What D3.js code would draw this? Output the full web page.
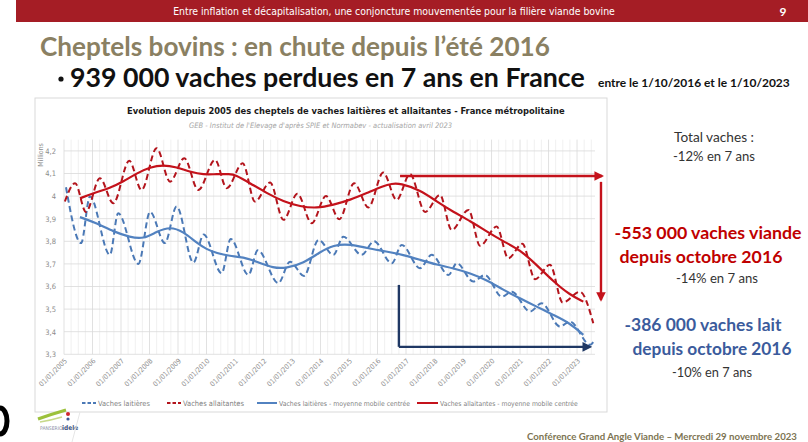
<!DOCTYPE html>
<html><head><meta charset="utf-8">
<script src="https://cdn.jsdelivr.net/npm/d3@7"></script>
<style>body{margin:0;background:#fff;} svg{display:block;}</style>
</head><body><svg id="c" width="808" height="442"></svg>
<script>
// ---------- DATA ----------
const yearTicks = d3.range(2005, 2024);
const yTickValues = [3.3, 3.4, 3.5, 3.6, 3.7, 3.8, 3.9, 4.0, 4.1, 4.2];
const yTickLabels = ["3,3","3,4","3,5","3,6","3,7","3,8","3,9","4","4,1","4,2"];

// Vaches laitières (dashed) – decimal year / millions
const laitT = [2005.07,2005.60,2005.91,2006.61,2006.90,2007.61,2008.02,2008.54,2008.95,2009.54,2009.90,2010.53,2010.85,2011.47,2011.80,2012.52,2012.93,2013.42,2013.93,2014.45,2014.80,2015.44,2015.88,2016.50,2016.85,2017.49,2017.90,2018.49,2018.78,2019.36,2019.77,2020.36,2020.71,2021.35,2021.76,2022.40,2022.75,2023.46,2023.63];
const laitV = [4.039,3.792,3.998,3.740,3.924,3.700,3.930,3.792,3.954,3.706,3.830,3.659,3.810,3.651,3.760,3.615,3.710,3.647,3.806,3.740,3.820,3.740,3.800,3.703,3.784,3.681,3.740,3.651,3.703,3.622,3.651,3.555,3.577,3.489,3.526,3.423,3.445,3.342,3.367];

// Vaches allaitantes (dashed)
const allaitT = [2005.03,2005.39,2005.77,2006.26,2006.73,2007.29,2007.72,2008.25,2008.72,2009.22,2009.71,2010.30,2010.71,2011.27,2011.70,2012.23,2012.70,2013.19,2013.69,2014.19,2014.66,2015.18,2015.68,2016.20,2016.67,2017.14,2017.67,2018.19,2018.60,2019.19,2019.60,2020.18,2020.59,2021.08,2021.53,2022.05,2022.50,2023.10,2023.57];
const allaitV = [3.976,4.057,3.930,4.079,3.968,4.156,4.027,4.212,4.064,4.168,4.027,4.160,4.035,4.145,3.976,4.060,3.895,4.010,3.880,4.000,3.898,4.057,3.950,4.104,3.983,4.097,3.930,4.005,3.850,3.939,3.780,3.865,3.725,3.789,3.632,3.696,3.529,3.577,3.437];

// Vaches laitières – moyenne mobile centrée
const laitMmT = [2005.56,2006.15,2006.73,2007.32,2007.79,2008.25,2008.72,2009.19,2009.66,2010.00,2010.36,2010.82,2011.29,2011.76,2012.35,2012.81,2013.40,2013.98,2014.45,2015.04,2015.62,2016.32,2016.90,2017.49,2018.08,2018.66,2019.25,2019.83,2020.41,2021.00,2021.58,2022.17,2022.75,2023.22];
const laitMmV = [3.907,3.880,3.843,3.818,3.810,3.843,3.865,3.843,3.792,3.765,3.747,3.735,3.730,3.710,3.681,3.681,3.703,3.752,3.784,3.788,3.770,3.755,3.740,3.718,3.696,3.681,3.659,3.629,3.585,3.548,3.511,3.474,3.438,3.386];

// Vaches allaitantes – moyenne mobile centrée
const allaitMmT = [2005.56,2006.09,2006.61,2007.08,2007.55,2008.02,2008.48,2008.95,2009.42,2009.89,2010.36,2010.82,2011.00,2011.53,2012.11,2012.70,2013.28,2013.87,2014.45,2015.04,2015.62,2016.20,2016.50,2016.79,2017.49,2018.08,2018.66,2019.25,2019.83,2020.41,2021.00,2021.58,2022.17,2022.75,2023.22];
const allaitMmV = [3.990,4.016,4.035,4.064,4.101,4.128,4.138,4.128,4.108,4.094,4.098,4.097,4.095,4.057,4.013,3.976,3.954,3.946,3.961,3.983,4.013,4.045,4.055,4.057,4.027,3.976,3.930,3.890,3.843,3.800,3.762,3.696,3.622,3.563,3.533];

const legendLabels = ["Vaches laitières","Vaches allaitantes","Vaches laitières - moyenne mobile centrée","Vaches allaitantes - moyenne mobile centrée"];

// ---------- SETUP ----------
const svg = d3.select("#c");
const C = {redD:"#b3141c", redS:"#c4121b", blueD:"#4b79b6", blueS:"#5282c0", navy:"#1f3864"};
const slideFont = "Lato, 'Open Sans', sans-serif";
const chartFont = "'Liberation Sans Narrow','Arial Narrow','DejaVu Sans Condensed','Liberation Sans',sans-serif";

function fit(sel, w){
  const L = sel.node().getComputedTextLength();
  const fs = parseFloat(sel.attr("font-size"));
  if (L > 0) sel.attr("font-size", (fs * w / L).toFixed(2));
  return sel;
}

// header bar
svg.append("rect").attr("x",16).attr("y",0).attr("width",792).attr("height",22).attr("fill","#a51d25");
fit(svg.append("text").attr("x",394).attr("y",15).attr("text-anchor","middle")
  .attr("font-family",chartFont).attr("font-size",10).attr("fill","#fff")
  .text("Entre inflation et décapitalisation, une conjoncture mouvementée pour la filière viande bovine"), 442);
svg.append("text").attr("x",783).attr("y",16).attr("text-anchor","middle")
  .attr("font-family",slideFont).attr("font-weight","bold").attr("font-size",12).attr("fill","#fff").text("9");

// slide titles
fit(svg.append("text").attr("x",40).attr("y",56).attr("font-family",slideFont).attr("font-weight","bold")
  .attr("font-size",22).attr("fill","#8a8062").text("Cheptels bovins : en chute depuis l’été 2016"), 510);
svg.append("circle").attr("cx",61).attr("cy",79).attr("r",2.6).attr("fill","#111");
fit(svg.append("text").attr("x",70).attr("y",87).attr("font-family",slideFont).attr("font-weight","bold")
  .attr("font-size",22).attr("fill","#111").text("939 000 vaches perdues en 7 ans en France"), 515);
fit(svg.append("text").attr("x",598).attr("y",87).attr("font-family",slideFont).attr("font-weight","bold")
  .attr("font-size",9).attr("fill","#111").text("entre le 1/10/2016 et le 1/10/2023"), 192);

// chart box
svg.append("rect").attr("x",35).attr("y",98).attr("width",572).attr("height",314)
  .attr("fill","#fff").attr("stroke","#d9d9d9").attr("stroke-width",1);

fit(svg.append("text").attr("x",127).attr("y",114).attr("font-family",chartFont).attr("font-weight","bold")
  .attr("font-size",11).attr("fill","#1a1a1a")
  .text("Evolution depuis 2005 des cheptels de vaches laitières et allaitantes - France métropolitaine"), 438);
fit(svg.append("text").attr("x",189).attr("y",128).attr("font-family",chartFont).attr("font-style","italic")
  .attr("font-size",8).attr("fill","#a6a6a6")
  .text("GEB - Institut de l'Elevage d'après SPIE et Normabev - actualisation avril 2023"), 263);

// scales
const x = d3.scaleLinear().domain([2005, 2023.63]).range([64, 595]);
const y = d3.scaleLinear().domain([3.3, 4.25]).range([354.3, 139.6]);

// minor vertical gridlines (quarterly)
const minor = d3.range(2005, 2023.63, 0.25).filter(v => Math.abs(v - Math.round(v)) > 0.01);
svg.append("g").selectAll("line").data(minor).join("line")
  .attr("x1",d=>x(d)).attr("x2",d=>x(d)).attr("y1",y(4.25)).attr("y2",y(3.3))
  .attr("stroke","#ececec").attr("stroke-width",0.8);
// major vertical gridlines
svg.append("g").selectAll("line").data(yearTicks).join("line")
  .attr("x1",d=>x(d)).attr("x2",d=>x(d)).attr("y1",y(4.25)).attr("y2",y(3.3))
  .attr("stroke","#d9d9d9").attr("stroke-width",0.8);
// horizontal gridlines
svg.append("g").selectAll("line").data(yTickValues).join("line")
  .attr("x1",x(2005)).attr("x2",x(2023.63)).attr("y1",d=>y(d)).attr("y2",d=>y(d))
  .attr("stroke","#d9d9d9").attr("stroke-width",0.8);

// y axis via d3.axisLeft
const yAxis = d3.axisLeft(y).tickValues(yTickValues).tickSize(0).tickPadding(7)
  .tickFormat((d,i)=>yTickLabels[i]);
const gy = svg.append("g").attr("transform",`translate(${x(2005)-1},0)`).call(yAxis);
gy.select(".domain").remove();
gy.selectAll("text").attr("font-family",chartFont).attr("font-size",7.5).attr("fill","#8c8c8c");

svg.append("text").attr("transform",`translate(43,155) rotate(-90)`).attr("text-anchor","middle")
  .attr("font-family",chartFont).attr("font-size",7).attr("fill","#8c8c8c").text("Millions");

// x axis labels
const xAxis = d3.axisBottom(x).tickValues(yearTicks).tickSize(0).tickFormat(d=>"01/01/"+d);
const gx = svg.append("g").attr("transform",`translate(0,${y(3.3)})`).call(xAxis);
gx.select(".domain").remove();
gx.selectAll("text").attr("font-family",chartFont).attr("font-size",7).attr("fill","#8c8c8c")
  .attr("text-anchor","end").attr("dy",0).attr("y",0)
  .attr("transform","translate(3,7) rotate(-45)");

// lines
const mk = (T,V) => T.map((t,i)=>[t,V[i]]);
const lineSmooth = d3.line().x(d=>x(d[0])).y(d=>y(d[1])).curve(d3.curveMonotoneX);
const lineMA = d3.line().x(d=>x(d[0])).y(d=>y(d[1])).curve(d3.curveBasis);

svg.append("path").attr("d",lineSmooth(mk(laitT,laitV))).attr("fill","none")
  .attr("stroke",C.blueD).attr("stroke-width",2).attr("stroke-dasharray","6,3.5");
svg.append("path").attr("d",lineSmooth(mk(allaitT,allaitV))).attr("fill","none")
  .attr("stroke",C.redD).attr("stroke-width",2).attr("stroke-dasharray","6,3.5");
svg.append("path").attr("d",lineMA(mk(laitMmT,laitMmV))).attr("fill","none")
  .attr("stroke",C.blueS).attr("stroke-width",2.2);
svg.append("path").attr("d",lineMA(mk(allaitMmT,allaitMmV))).attr("fill","none")
  .attr("stroke",C.redS).attr("stroke-width",2.2);

// arrows (annotation, in data units)
const defs = svg.append("defs");
function marker(id, col){
  defs.append("marker").attr("id",id).attr("viewBox","0 0 10 10").attr("refX",8).attr("refY",5)
    .attr("markerWidth",4).attr("markerHeight",4).attr("orient","auto")
    .append("path").attr("d","M0,0 L10,5 L0,10 z").attr("fill",col);
}
marker("ar", C.redS); marker("an", C.navy);
const arrowSegs = [
  {t1:2016.79,v1:4.089,t2:2023.88,v2:4.089,col:C.redS,m:"ar"},
  {t1:2023.84,v1:4.063,t2:2023.84,v2:3.541,col:C.redS,m:"ar"},
  {t1:2016.75,v1:3.607,t2:2016.75,v2:3.333,col:C.navy,m:null},
  {t1:2016.75,v1:3.333,t2:2023.46,v2:3.333,col:C.navy,m:"an"}
];
svg.append("g").selectAll("line").data(arrowSegs).join("line")
  .attr("x1",d=>x(d.t1)).attr("y1",d=>y(d.v1)).attr("x2",d=>x(d.t2)).attr("y2",d=>y(d.v2))
  .attr("stroke",d=>d.col).attr("stroke-width",2.4)
  .attr("marker-end",d=>d.m?`url(#${d.m})`:null);

// legend
const legItems = [
  {x:82,w:14,col:C.blueD,dash:"3.5,2",tw:52},
  {x:167,w:14,col:C.redD,dash:"3.5,2",tw:61},
  {x:257,w:20,col:C.blueS,dash:null,tw:131},
  {x:417,w:21,col:C.redS,dash:null,tw:138}
];
const lg = svg.append("g");
legItems.forEach((it,i)=>{
  lg.append("line").attr("x1",it.x).attr("x2",it.x+it.w).attr("y1",403).attr("y2",403)
    .attr("stroke",it.col).attr("stroke-width",2).attr("stroke-dasharray",it.dash);
  const t = lg.append("text").attr("x",it.x+it.w+2).attr("y",405.5).attr("font-family",chartFont)
    .attr("font-size",7.5).attr("fill","#7f7f7f").text(legendLabels[i]);
  fit(t, it.tw);
});

// right annotations
function rt(txt, cx, yb, size, col, bold, w){
  const s = svg.append("text").attr("x",cx).attr("y",yb).attr("text-anchor","middle")
    .attr("font-family",slideFont).attr("font-size",size).attr("fill",col)
    .attr("font-weight",bold?"bold":"normal").text(txt);
  if (w) fit(s, w);
}
rt("Total vaches :", 714, 142, 11.5, "#333", false, 80);
rt("-12% en 7 ans", 714, 161, 11.5, "#333", false, 82);
rt("-553 000 vaches viande", 708, 239, 16, "#c00000", true, 187);
rt("depuis octobre 2016", 701, 263, 16, "#c00000", true, 163);
rt("-14% en 7 ans", 717, 283, 11.5, "#333", false, 82);
rt("-386 000 vaches lait", 703, 331, 16, "#3b5b9c", true, 157);
rt("depuis octobre 2016", 712, 355, 16, "#3b5b9c", true, 159);
rt("-10% en 7 ans", 712, 377, 11.5, "#333", false, 80);

// footer
fit(svg.append("text").attr("x",527).attr("y",440).attr("font-family",slideFont).attr("font-weight","bold")
  .attr("font-size",9).attr("fill","#7d7452").text("Conférence Grand Angle Viande – Mercredi 29 novembre 2023"), 270);

// logo & decoration
svg.append("path").attr("d","M38,419 Q52,414 66,410").attr("fill","none").attr("stroke","#9cc13b").attr("stroke-width",3.2);
svg.append("path").attr("d","M40,422 Q52,420 62,417").attr("fill","none").attr("stroke","#c7d98a").attr("stroke-width",1.6);
svg.append("circle").attr("cx",68).attr("cy",414).attr("r",2).attr("fill","#d0262e");
svg.append("circle").attr("cx",68).attr("cy",419).attr("r",1.6).attr("fill","#3d5a98");
svg.append("text").attr("x",40).attr("y",430).attr("font-family",chartFont).attr("font-size",5).attr("fill","#8a8fa6").text("PANSERIO");
svg.append("text").attr("x",62).attr("y",430).attr("font-family",chartFont).attr("font-weight","bold").attr("font-size",6.5).attr("fill","#40557f").text("idele");
svg.append("path").attr("d","M80,412 L72,442").attr("stroke","#e6e6e6").attr("stroke-width",1);
svg.append("ellipse").attr("cx",0).attr("cy",421).attr("rx",7).attr("ry",13).attr("fill","none").attr("stroke","#000").attr("stroke-width",5);
</script></body></html>
